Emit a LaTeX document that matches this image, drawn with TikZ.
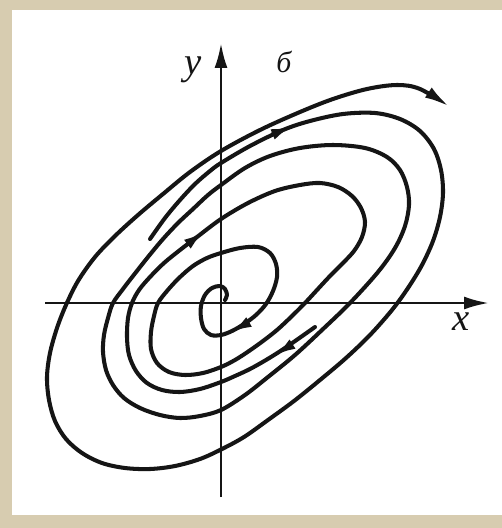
\documentclass[tikz,border=0pt]{standalone}
\usepackage{fontspec}
\setmainfont{Liberation Serif}
\usetikzlibrary{arrows.meta}
\definecolor{ink}{HTML}{151515}
\definecolor{paper}{HTML}{D7CCB0}
\tikzset{
  orbit/.style={draw=ink,line width=2.3pt,line cap=round,line join=round},
  axis/.style={draw=ink,line width=1.6pt,-{Latex[length=0.5cm,width=0.26cm]}},
  tip/.style={draw=ink,line width=2.3pt,-{Latex[length=0.44cm,width=0.22cm]}},
  lab/.style={font=\fontsize{22}{24}\selectfont\itshape,text=ink,inner sep=0pt},
}
\begin{document}
\begin{tikzpicture}[x=0.02cm,y=-0.02cm]
  \useasboundingbox (0,0) rectangle (502,528);
  \fill[paper] (0,0) rectangle (502,528);
  \fill[white] (12,10) rectangle (502,515);

  % axes
  \coordinate (xs) at (45,303);
  \coordinate (xe) at (489,303);
  \coordinate (ys) at (221,497);
  \coordinate (ye) at (221,43);
  \draw[axis] (xs) -- (xe);
  \draw[axis] (ys) -- (ye);
  \node[lab] (ylab) at (193,70) {y};
  \node[lab,font=\fontsize{17}{19}\selectfont\itshape] (blab) at (284,62) {б};
  \node[lab] (xlab) at (461,322) {x};

  % closed cycle
  \draw[orbit] plot[smooth cycle,tension=0.55] coordinates {
    (221,185) (245,168) (270,156) (300,148) (333,145) (365,148) (387,157)
    (400,170) (407,187) (409,205) (405,226) (395,248) (378,272) (350,303)
    (322,330) (295,355) (268,377) (245,395) (221,410) (200,416) (180,418)
    (160,415) (140,408) (124,398) (113,385) (106,370) (103,352) (104,335)
    (108,318) (113,303) (123,289) (133,276) (148,257) (163,239) (178,223)
    (193,209) (208,195)};

  % outer spiral
  \draw[orbit,-{Latex[length=0.52cm,width=0.24cm]}] plot[smooth,tension=0.55] coordinates {
    (150,239) (165,218) (180,200) (195,184) (210,171) (221,163) (250,146)
    (283,130) (310,121) (343,114) (375,113) (400,119) (420,131) (434,149)
    (441,170) (443,193) (440,217) (433,241) (422,265) (408,288) (392,310)
    (370,335) (346,358) (320,380) (294,401) (268,420) (244,437) (222,449)
    (200,459) (175,466) (150,469) (125,468) (102,463) (82,453) (66,439)
    (55,421) (49,400) (47,377) (50,353) (57,328) (66,305) (78,281) (95,257)
    (115,236) (138,215) (163,194) (190,172) (221,151) (260,130) (300,112)
    (333,99) (367,89) (397,85) (420,89) (450,107)};

  % inner spiral
  \draw[orbit] plot[smooth,tension=0.55] coordinates {
    (315,327) (298,339) (282,350) (266,360) (250,369) (235,376) (221,382)
    (200,389) (180,392) (162,390) (147,383) (136,371) (129,355) (127,337)
    (128,318) (132,303) (139,290) (150,277) (164,263) (180,250) (197,237)
    (221,219) (248,203) (275,191) (300,185) (320,183) (338,187) (352,196)
    (361,208) (365,222) (362,237) (354,251) (342,264) (330,276) (317,290)
    (305,303) (291,317) (277,330) (263,341) (249,351) (235,360) (221,367)
    (203,373) (185,375) (169,372) (157,363) (151,349) (151,332) (154,316)
    (158,303) (167,291) (179,278) (193,266) (207,258) (221,253) (240,248)
    (258,247) (270,253) (276,264) (277,277) (273,291) (266,304) (256,315)
    (244,324) (232,331) (221,335) (211,335) (204,329) (201,318) (201,306)
    (205,295) (212,288) (220,286) (225,289) (227,295) (225,300)};

  % direction marks
  \draw[tip] (272,134.6) -- (293,126);
  \draw[tip] (187.4,244.2) -- (205,231);
  \draw[tip] (249,322) -- (230,333);
  \draw[tip] (292,344.4) -- (274,356);
\end{tikzpicture}
\end{document}
